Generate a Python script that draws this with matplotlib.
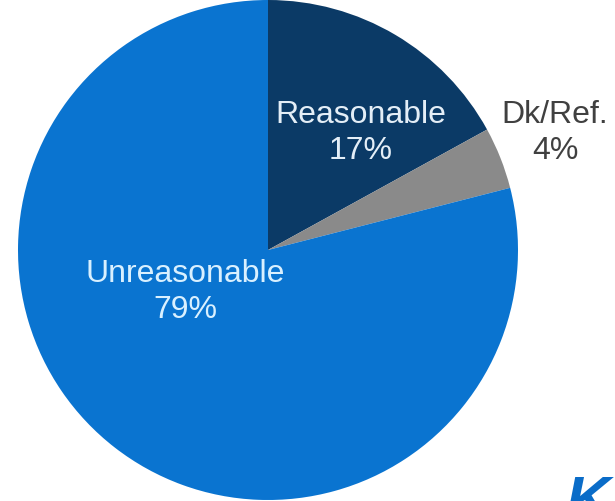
import matplotlib
matplotlib.use("Agg")
import matplotlib.pyplot as plt

categories = ["Reasonable", "Dk/Ref.", "Unreasonable"]
values = [17, 4, 79]
colors = ["#0b3a66", "#8a8a8a", "#0a74d0"]

plt.rcParams['font.family'] = ['Liberation Sans', 'DejaVu Sans']

fig = plt.figure(figsize=(6.15, 5.01), dpi=100)
ax = fig.add_axes([18/615, 1/501, 500/615, 500/501])
ax.pie(values, colors=colors, startangle=90, counterclock=False,
       wedgeprops=dict(linewidth=0))
ax.set_xlim(-1, 1)
ax.set_ylim(-1, 1)
ax.set_aspect('equal')
ax.axis('off')

fs = 23
ls = 1.3
fig.text(361/615, 1 - 133/501, f"{categories[0]}\n{values[0]}%", ha='center', va='center',
         color="#e4eef7", fontsize=fs, linespacing=ls)
fig.text(555/615, 1 - 133/501, f"{categories[1]}\n{values[1]}%", ha='center', va='center',
         color="#404040", fontsize=fs, linespacing=ls)
fig.text(185/615, 1 - 292/501, f"{categories[2]}\n{values[2]}%", ha='center', va='center',
         color="#d9f0ff", fontsize=fs, linespacing=ls)

# partial logo at bottom right
fig.text(566/615, -31/501, "K", ha='left', va='bottom', color="#0a6cc8",
         fontsize=44, fontweight='bold', style='italic')

fig.savefig("out.png", dpi=100)
